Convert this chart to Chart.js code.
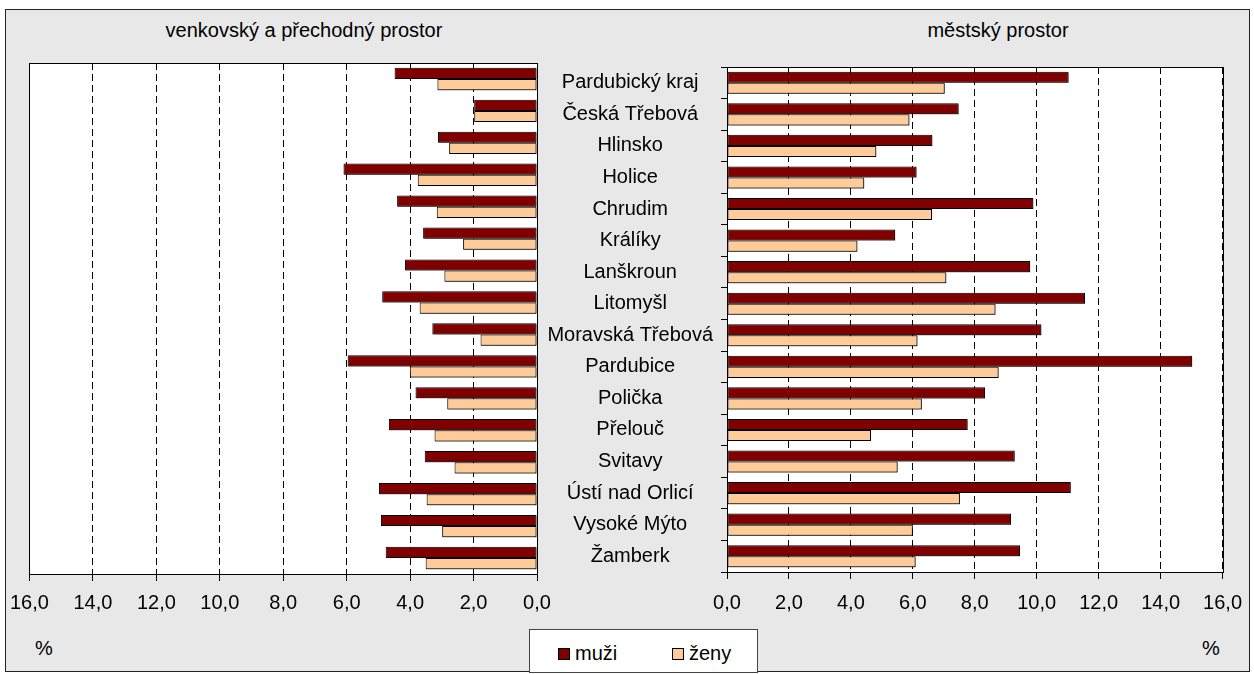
<!DOCTYPE html>
<html lang="cs">

<head>
    <meta charset="UTF-8" />
    <title>Muži a ženy – venkovský a městský prostor</title>
    <script src="https://cdn.jsdelivr.net/npm/chart.js"></script>
    <style>
        * {
            font-family: 'Liberation Sans', Arial, sans-serif;
            box-sizing: border-box;
        }

        body {
            margin: 0;
            background: #fff;
        }

        .wrap {
            position: relative;
            width: 1254px;
            height: 674px;
            overflow: hidden;
        }

        .ramecek {
            position: absolute;
            left: 5px;
            top: 9px;
            width: 1245px;
            height: 663px;
            background: #e8e8e8;
            border: 1px solid #222;
        }

        canvas {
            position: absolute;
            left: 0;
            top: 0;
        }

        .txt {
            position: absolute;
            font-size: 20px;
            color: #000;
            transform: translate(-50%, -50%);
            white-space: nowrap;
        }

        .legenda {
            position: absolute;
            left: 529px;
            top: 629px;
            width: 229px;
            height: 44px;
            background: #fff;
            border: 1px solid #444;
        }

        .legenda .ctv {
            position: absolute;
            top: 18px;
            width: 12px;
            height: 12px;
            border: 1px solid #000;
        }

        .legenda .pop {
            position: absolute;
            top: 12px;
            font-size: 20px;
            line-height: 22px;
        }
    </style>
</head>

<body>
    <div class="wrap">
        <div class="ramecek"></div>
        <div class="txt" style="left:304px; top:30px;">venkovský a přechodný prostor</div>
        <div class="txt" style="left:998px; top:30px;">městský prostor</div>
        <div class="txt" style="left:44px; top:648px;">%</div>
        <div class="txt" style="left:1211px; top:648px;">%</div>

        <canvas id="venkov" width="1254" height="674"></canvas>
        <canvas id="mesto" width="1254" height="674"></canvas>

        <div class="legenda">
            <span class="ctv" style="left:28px; background:#800000;"></span>
            <span class="pop" style="left:45px;">muži</span>
            <span class="ctv" style="left:142px; background:#ffcc99;"></span>
            <span class="pop" style="left:159px;">ženy</span>
        </div>
    </div>

    <script>
        // ===== Data =====
        const kategorie = ['Pardubický kraj', 'Česká Třebová', 'Hlinsko', 'Holice', 'Chrudim', 'Králíky',
            'Lanškroun', 'Litomyšl', 'Moravská Třebová', 'Pardubice', 'Polička', 'Přelouč', 'Svitavy',
            'Ústí nad Orlicí', 'Vysoké Mýto', 'Žamberk'];

        // venkovský a přechodný prostor
        const venkovMuzi = [4.49, 1.98, 3.12, 6.10, 4.41, 3.59, 4.16, 4.88, 3.30, 5.97, 3.83, 4.67, 3.54, 4.98, 4.92, 4.77];
        const venkovZeny = [3.14, 1.98, 2.77, 3.76, 3.16, 2.33, 2.92, 3.70, 1.78, 4.01, 2.83, 3.23, 2.60, 3.48, 2.99, 3.51];

        // městský prostor
        const mestoMuzi = [11.03, 7.48, 6.63, 6.12, 9.89, 5.43, 9.79, 11.56, 10.15, 15.02, 8.33, 7.77, 9.29, 11.10, 9.17, 9.46];
        const mestoZeny = [7.03, 5.89, 4.82, 4.43, 6.62, 4.21, 7.08, 8.67, 6.15, 8.77, 6.29, 4.65, 5.51, 7.52, 6.00, 6.09];

        const osaMin = 0, osaMax = 16, osaKrok = 2;
        const barvaMuzi = '#800000';
        const barvaZeny = '#ffcc99';

        Chart.defaults.font.family = "'Liberation Sans', Arial, sans-serif";
        Chart.defaults.color = '#000';

        // bila plocha grafu, stin pod sloupci a ramecek kolem
        const plochaPlugin = {
            id: 'plocha',
            beforeDraw(chart) {
                const { ctx, chartArea: a } = chart;
                ctx.save();
                ctx.fillStyle = '#fff';
                ctx.fillRect(a.left, a.top, a.width, a.height);
                ctx.restore();
            },
            beforeDatasetsDraw(chart) {
                const ctx = chart.ctx;
                ctx.save();
                ctx.shadowColor = 'rgba(0, 0, 0, 0.45)';
                ctx.shadowOffsetX = 1;
                ctx.shadowOffsetY = 1;
                ctx.shadowBlur = 0;
            },
            afterDatasetsDraw(chart) {
                const { ctx, chartArea: a } = chart;
                ctx.restore();
                ctx.save();
                ctx.strokeStyle = '#000';
                ctx.lineWidth = 1;
                ctx.strokeRect(Math.round(a.left) + 0.5, Math.round(a.top) + 0.5, Math.round(a.width), Math.round(a.height));
                ctx.restore();
            }
        };

        function datasety(muzi, zeny) {
            return [{
                label: 'muži',
                data: muzi,
                backgroundColor: barvaMuzi,
                borderColor: '#000',
                borderWidth: 1,
                borderSkipped: false,
                categoryPercentage: 0.7,
                barPercentage: 1.0
            }, {
                label: 'ženy',
                data: zeny,
                backgroundColor: barvaZeny,
                borderColor: '#000',
                borderWidth: 1,
                borderSkipped: false,
                categoryPercentage: 0.7,
                barPercentage: 1.0
            }];
        }

        function osaX(obracene, odsazeni) {
            return {
                reverse: obracene,
                min: osaMin,
                max: osaMax,
                ticks: {
                    stepSize: osaKrok,
                    color: '#000',
                    font: { size: 20 },
                    padding: odsazeni,
                    maxRotation: 0,
                    callback: v => v.toFixed(1).replace('.', ',')
                },
                grid: { color: '#000', tickColor: '#000', tickLength: 7 },
                border: { display: true, color: '#000', dash: [7, 4] },
                afterFit: s => { s.height = 40; }
            };
        }

        // ===== Levy graf: venkovsky a prechodny prostor =====
        new Chart(document.getElementById('venkov'), {
            type: 'bar',
            data: { labels: kategorie, datasets: datasety(venkovMuzi, venkovZeny) },
            options: {
                indexAxis: 'y',
                responsive: false,
                animation: false,
                devicePixelRatio: 1,
                layout: { padding: { left: 27, right: 717, top: 63, bottom: 60 } },
                scales: {
                    x: osaX(true, 10),
                    y: { display: false }
                },
                plugins: { legend: { display: false }, tooltip: { enabled: false } }
            },
            plugins: [plochaPlugin]
        });

        // ===== Pravy graf: mestsky prostor =====
        new Chart(document.getElementById('mesto'), {
            type: 'bar',
            data: { labels: kategorie, datasets: datasety(mestoMuzi, mestoZeny) },
            options: {
                indexAxis: 'y',
                responsive: false,
                animation: false,
                devicePixelRatio: 1,
                layout: { padding: { left: 540, right: 29, top: 67, bottom: 62 } },
                scales: {
                    x: osaX(false, 12),
                    y: {
                        ticks: { color: '#000', font: { size: 20 }, crossAlign: 'center', padding: 8, autoSkip: false },
                        grid: { drawOnChartArea: false, tickLength: 6, color: '#000', offset: true },
                        border: { display: true, color: '#000' },
                        afterFit: s => { s.width = 187; }
                    }
                },
                plugins: { legend: { display: false }, tooltip: { enabled: false } }
            },
            plugins: [plochaPlugin]
        });
    </script>
</body>

</html>
